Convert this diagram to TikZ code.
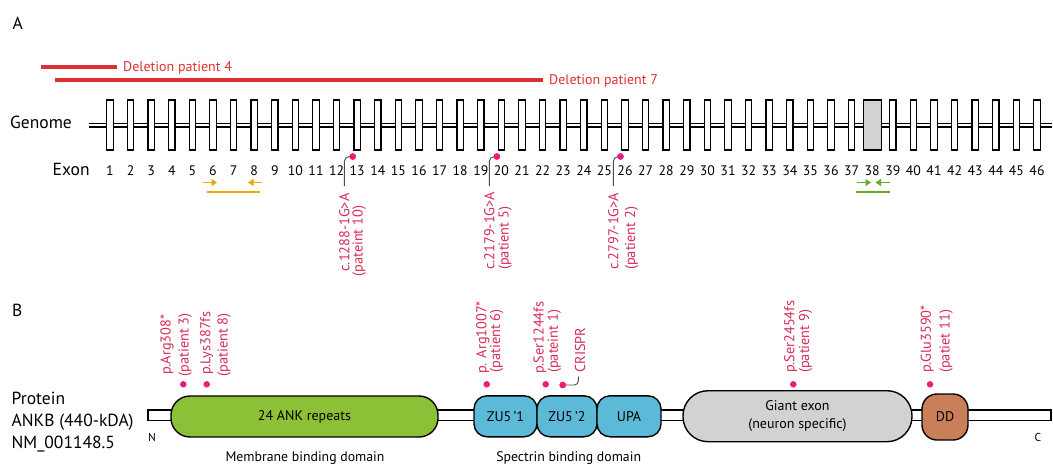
\documentclass[tikz,border=0pt]{standalone}
\usepackage{fontspec}
\setmainfont{PT Sans}
\usetikzlibrary{arrows.meta,calc}
\definecolor{delred}{RGB}{222,48,52}
\definecolor{mutpink}{RGB}{234,30,120}
\definecolor{labred}{RGB}{214,44,84}
\definecolor{primerorange}{RGB}{236,166,12}
\definecolor{primergreen}{RGB}{108,168,40}
\definecolor{ankgreen}{RGB}{140,193,55}
\definecolor{zublue}{RGB}{92,186,216}
\definecolor{giantgray}{RGB}{210,210,210}
\definecolor{ddbrown}{RGB}{201,128,88}
\tikzset{
  biglab/.style={font=\fontsize{17.5}{20}\selectfont, inner sep=0, anchor=base west},
  exonbox/.style={draw, fill=white, line width=1.2, minimum width=6.5, minimum height=50, inner sep=0},
  bigexon/.style={exonbox, fill=giantgray, minimum width=18},
  exnum/.style={font=\fontsize{13.8}{15}\selectfont, inner sep=0, anchor=base},
  mutdot/.style={circle, fill=mutpink, minimum size=6.5, inner sep=0},
  mutlab/.style={font=\fontsize{14.3}{16}\selectfont, text=labred, rotate=90, anchor=west, inner sep=0},
  mutline/.style={draw=black!70, line width=0.9, rounded corners=5},
  delbar/.style={draw=delred, line width=4.5},
  deltext/.style={font=\fontsize{14}{16}\selectfont, text=delred, anchor=base west, inner sep=0},
  dombox/.style={draw, line width=1.4, minimum height=41, inner sep=0, font=\fontsize{14}{16}\selectfont},
  primerarrow/.style={line width=1.6, -{Triangle[length=5.5,width=7]}},
  primerline/.style={line width=2},
  endlab/.style={font=\fontsize{11.5}{13}\selectfont, inner sep=0},
  domlab/.style={font=\fontsize{13.8}{16}\selectfont, inner sep=0, anchor=base},
}
\begin{document}
\begin{tikzpicture}[x=1pt,y=-1pt]
\useasboundingbox[fill=white] (0,0) rectangle (1053,466);

% ---------------- Panel A ----------------
\node[biglab] (A) at (12.5,29) {A};

\coordinate (d4a) at (41,67);
\coordinate (d4b) at (117,67);
\draw[delbar] (d4a) -- (d4b);
\node[deltext] (d4t) at (123,71.5) {Deletion patient 4};
\coordinate (d7a) at (55,80);
\coordinate (d7b) at (543,80);
\draw[delbar, line width=4] (d7a) -- (d7b);
\node[deltext] (d7t) at (549,84.5) {Deletion patient 7};

\node[biglab] (genome) at (10,128.5) {Genome};
\node[biglab] (exon) at (52.5,175.5) {Exon};

% genome line
\coordinate (gl) at (89,125);
\coordinate (gr) at (1052,125);
\draw[line width=5] (gl) -- (gr);
\draw[line width=2, white] (gl) -- (gr);

\foreach \i in {1,...,46} {
  \pgfmathsetmacro\xx{110+(\i-1)*20.6}
  \ifnum\i=38
    \node[bigexon] (e\i) at (\xx,125) {};
  \else
    \node[exonbox] (e\i) at (\xx,125) {};
  \fi
  \node[exnum] (n\i) at (\xx,175) {\i};
}

% splice mutations
\foreach \e/\lx/\la/\lb/\sx/\sa/\sb in {
  13/344.3/271.7/276.7/359/c.1288-1G>A/(pateint 10),
  20/489.3/270/270/505/c.2179-1G>A/(patient 5),
  26/613.3/270/270/631.7/c.2797-1G>A/(patient 2)} {
  \node[mutdot] (m\e) at ($(e\e.center)+(-4.5,31.5)$) {};
  \coordinate (c\e) at (\lx,186);
  \draw[mutline] (m\e.center) -| (c\e);
  \node[mutdot] at (m\e) {};
  \node[mutlab] (ta\e) at (\lx,\la) {\sa};
  \node[mutlab] (tb\e) at (\sx,\lb) {\sb};
}

% primers
\coordinate (po1) at (202.7,182.5);
\coordinate (po2) at (217,182.5);
\coordinate (po3) at (262,182.5);
\coordinate (po4) at (248,182.5);
\draw[primerarrow, primerorange] (po1) -- (po2);
\draw[primerarrow, primerorange] (po3) -- (po4);
\coordinate (pl1) at (206.5,191.5);
\coordinate (pl2) at (260,191.5);
\draw[primerline, primerorange] (pl1) -- (pl2);

\coordinate (pg1) at (856.5,182.5);
\coordinate (pg2) at (871,182.5);
\coordinate (pg3) at (889.5,182.5);
\coordinate (pg4) at (875.5,182.5);
\draw[primerarrow, primergreen] (pg1) -- (pg2);
\draw[primerarrow, primergreen] (pg3) -- (pg4);
\coordinate (pgl1) at (856,191.5);
\coordinate (pgl2) at (889.5,191.5);
\draw[primerline, primergreen] (pgl1) -- (pgl2);

% ---------------- Panel B ----------------
\node[biglab] (B) at (12,316) {B};
\node[biglab] (prot) at (11.5,404) {Protein};
\node[biglab] (ankb) at (11.5,426.5) {ANKB (440-kDA)};
\node[biglab] (nm) at (11.5,448.5) {NM\_001148.5};

\node[draw, fill=white, line width=1.3, minimum width=903, minimum height=10.5, inner sep=0] (bb) at (599.5,415.3) {};

\node[dombox, fill=ankgreen, minimum width=267, rounded corners=19] (ank) at (304.5,416.5) {24 ANK repeats};
\node[dombox, fill=zublue, minimum width=63, rounded corners=13] (zu1) at (505.5,416.3) {ZU5\,’1};
\node[dombox, fill=zublue, minimum width=60, rounded corners=13] (zu2) at (567,416.3) {ZU5\,’2};
\node[dombox, fill=zublue, minimum width=64, rounded corners=13] (upa) at (629,416.3) {UPA};
\node[dombox, fill=giantgray, minimum width=229, minimum height=51, rounded corners=25, align=center, font=\fontsize{14}{18.5}\selectfont] (giant) at (797.5,416.2) {Giant exon\\(neuron specific)};
\node[dombox, fill=ddbrown, minimum width=46, minimum height=46, rounded corners=15] (dd) at (945,417) {DD};

\node[endlab] (N) at (152,437) {N};
\node[endlab] (C) at (1038,437) {C};

\node[domlab] (mbd) at (305,461.5) {Membrane binding domain};
\node[domlab] (sbd) at (568.7,461.5) {Spectrin binding domain};

% protein mutations
\node[mutdot] (p308) at (183.3,384.3) {};
\node[mutdot] (p387) at (206.7,384.3) {};
\node[mutdot] (p1007) at (486.7,384.3) {};
\node[mutdot] (p1244) at (545.7,384.3) {};
\node[mutdot] (pcr) at (562.7,385) {};
\node[mutdot] (p2454) at (793.3,384.3) {};
\node[mutdot] (p3590) at (930,384.3) {};

\coordinate (crend) at (578.3,376.5);
\draw[mutline, rounded corners=4] (pcr.center) -| (crend);
\node[mutdot] at (pcr) {};

\node[mutlab] (t308a) at (167,375) {p.Arg308*};
\node[mutlab] (t308b) at (185,376.5) {(patient 3)};
\node[mutlab] (t387a) at (206.7,375) {p.Lys387fs};
\node[mutlab] (t387b) at (224,376.5) {(patient 8)};
\node[mutlab] (t1007a) at (482.7,374) {p. Arg1007*};
\node[mutlab] (t1007b) at (496.7,372.7) {(patient 6)};
\node[mutlab] (t1244a) at (540,374) {p.Ser1244fs};
\node[mutlab] (t1244b) at (554.3,373) {(pateint 1)};
\node[mutlab] (tcr) at (580,372.7) {CRISPR};
\node[mutlab] (t2454a) at (790.7,373) {p.Ser2454fs};
\node[mutlab] (t2454b) at (805.7,373) {(patient 9)};
\node[mutlab] (t3590a) at (927.3,373) {p.Glu3590*};
\node[mutlab] (t3590b) at (946,373) {(patiet 11)};
\end{tikzpicture}
\end{document}
